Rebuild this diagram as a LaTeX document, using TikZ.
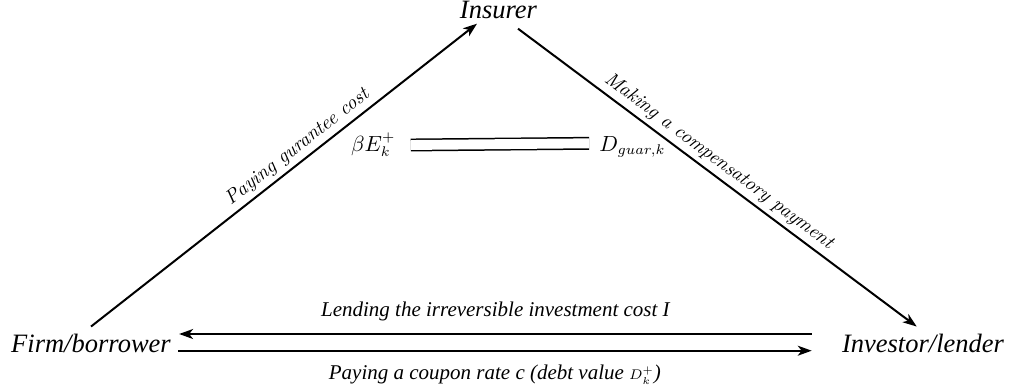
\documentclass[tikz,border=0pt]{standalone}
\usepackage{amsmath,amssymb}
\usepackage{fontspec}
\usetikzlibrary{arrows.meta}
\newfontfamily\timesfont{Liberation Serif}

\begin{document}
\begin{tikzpicture}[
    x=0.5pt,y=-0.5pt,
    party/.style={font=\timesfont\itshape\fontsize{13.25}{15}\selectfont,anchor=base,inner sep=3.33pt},
    flow/.style={font=\timesfont\itshape\fontsize{10.5}{12}\selectfont,inner sep=3.33pt},
    tag/.style={font=\itshape\fontsize{9.8}{11}\selectfont,sloped,above,inner sep=2pt},
    quant/.style={font=\fontsize{10.5}{12}\selectfont,anchor=base,inner sep=3.33pt},
    arrow/.style={-{Stealth[length=7pt,width=5pt,inset=2pt]},line width=1pt},
    link/.style={double,double distance=4.95pt,line width=0.75pt}
  ]
    \useasboundingbox (0,0) rectangle (1012,391);
    \node[party] (ins) at (498.5,18.3) {Insurer};
    \node[party] (firm) at (91,352) {Firm/borrower};
    \node[party] (inv) at (923,352) {Investor/lender};
    \node[quant] (beta) at (373.3,151) {$\beta E_k^{+}$};
    \node[quant] (dguar) at (632.5,151) {$D_{guar,k}$};
    \draw[arrow] (firm.north) -- node[tag,pos=0.557] {Paying gurantee cost} ([xshift=-10.75pt,yshift=1pt]ins.south);
    \draw[arrow] ([xshift=9.75pt,yshift=-1.5pt]ins.south) -- node[tag,pos=0.483] {Making a compensatory payment} ([xshift=-3.15pt]inv.north);
    \draw[arrow] ([xshift=-11.65pt,yshift=9pt]inv.base west) -- node[flow,above=2.5pt] {Lending the irreversible investment cost I} ([xshift=0.65pt,yshift=9pt]firm.base east);
    \draw[arrow] ([xshift=0.15pt,yshift=0.65pt]firm.base east) -- node[flow,below=3.4pt] {Paying a coupon rate c (debt value {\fontsize{7}{8}\selectfont$D_k^{+}$})} ([xshift=-11.65pt,yshift=0.65pt]inv.base west);
    \draw[link] ([xshift=4.15pt,yshift=3pt]beta.base east) -- ([xshift=-1.65pt,yshift=3.85pt]dguar.base west);
\end{tikzpicture}
\end{document}
